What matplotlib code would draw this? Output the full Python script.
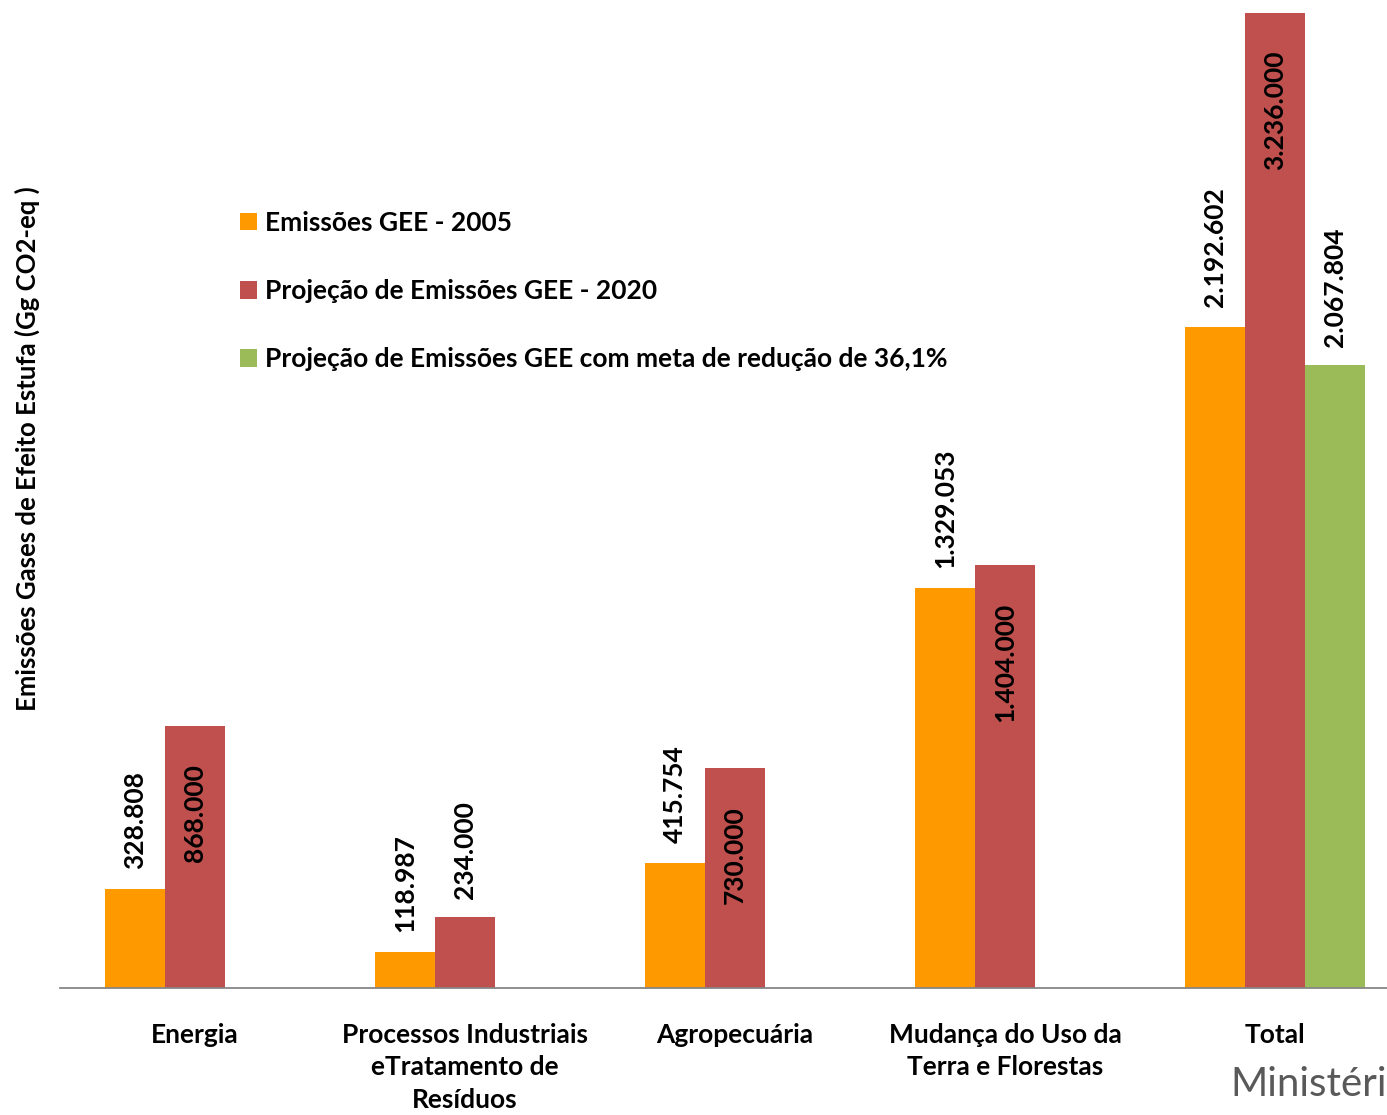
import matplotlib
matplotlib.use("Agg")
import matplotlib.pyplot as plt
import numpy as np

# dados (Gg CO2-eq)
categorias = ["Energia", "Processos Industriais\neTratamento de\nResíduos", "Agropecuária",
              "Mudança do Uso da\nTerra e Florestas", "Total"]
emissoes_2005 = [328808, 118987, 415754, 1329053, 2192602]
projecao_2020 = [868000, 234000, 730000, 1404000, 3236000]
meta_reducao = [None, None, None, None, 2067804]

series_nomes = ["Emissões GEE - 2005", "Projeção de Emissões GEE - 2020",
                "Projeção de Emissões GEE com meta de redução de 36,1%"]
cores = ["#FF9900", "#C0504D", "#9BBB59"]

def fmt(v):
    return f"{v:,}".replace(",", ".")

plt.rcParams['font.family'] = ['Lato', 'DejaVu Sans']
plt.rcParams['font.weight'] = 'bold'

W, H = 1387, 1115
fig = plt.figure(figsize=(W / 100, H / 100), dpi=100)
ax = fig.add_axes([60 / W, (H - 988) / H, 1350 / W, 988 / H])

x = np.arange(len(categorias))
w = 60 / 270

b1 = ax.bar(x - w, emissoes_2005, w, color=cores[0])
b2 = ax.bar(x, projecao_2020, w, color=cores[1])
xs_meta = [xi + w for xi, v in zip(x, meta_reducao) if v is not None]
vs_meta = [v for v in meta_reducao if v is not None]
b3 = ax.bar(xs_meta, vs_meta, w, color=cores[2])

fs_num = 19
for xi, v in zip(x - w, emissoes_2005):
    ax.annotate(fmt(v), (xi, v), xytext=(0, 20), textcoords='offset pixels',
                rotation=90, ha='center', va='bottom', fontsize=fs_num, fontweight='bold')
for xi, v in zip(x, projecao_2020):
    if v < 400000:
        ax.annotate(fmt(v), (xi, v), xytext=(0, 18), textcoords='offset pixels',
                    rotation=90, ha='center', va='bottom', fontsize=fs_num, fontweight='bold')
    else:
        ax.annotate(fmt(v), (xi, v), xytext=(0, -38), textcoords='offset pixels',
                    rotation=90, ha='center', va='top', fontsize=fs_num, fontweight='bold')
for xi, v in zip(xs_meta, vs_meta):
    ax.annotate(fmt(v), (xi, v), xytext=(0, 18), textcoords='offset pixels',
                rotation=90, ha='center', va='bottom', fontsize=fs_num, fontweight='bold')

ax.set_xlim(-0.5, len(categorias) - 0.5)
ax.set_ylim(0, 988 / 975 * 3236000)
ax.set_xticks(x)
ax.set_xticklabels(categorias, fontsize=19, fontweight='bold', va='top', linespacing=1.42)
ax.tick_params(axis='x', length=0, pad=25)
ax.set_yticks([])
for s in ['top', 'right', 'left']:
    ax.spines[s].set_visible(False)
ax.spines['bottom'].set_color('#868686')
ax.spines['bottom'].set_linewidth(1.3)

ax.legend([b1, b2, b3], series_nomes, loc='upper left', bbox_to_anchor=(156 / 1350, 1 - 187 / 988),
          frameon=False, handlelength=0.65, handleheight=0.65, handletextpad=0.3,
          labelspacing=1.68, prop={'weight': 'bold', 'size': 19})

fig.text(27 / W, 1 - 449 / H, "Emissões Gases de Efeito Estufa (Gg CO2-eq )", rotation=90,
         ha='center', va='center', fontsize=18.5, fontweight='bold')
fig.text(1230 / W, 1 - 1085 / H, "Ministério", ha='left', va='center', fontsize=29,
         fontweight='normal', color='#595959')

fig.savefig("out.png", dpi=100)
